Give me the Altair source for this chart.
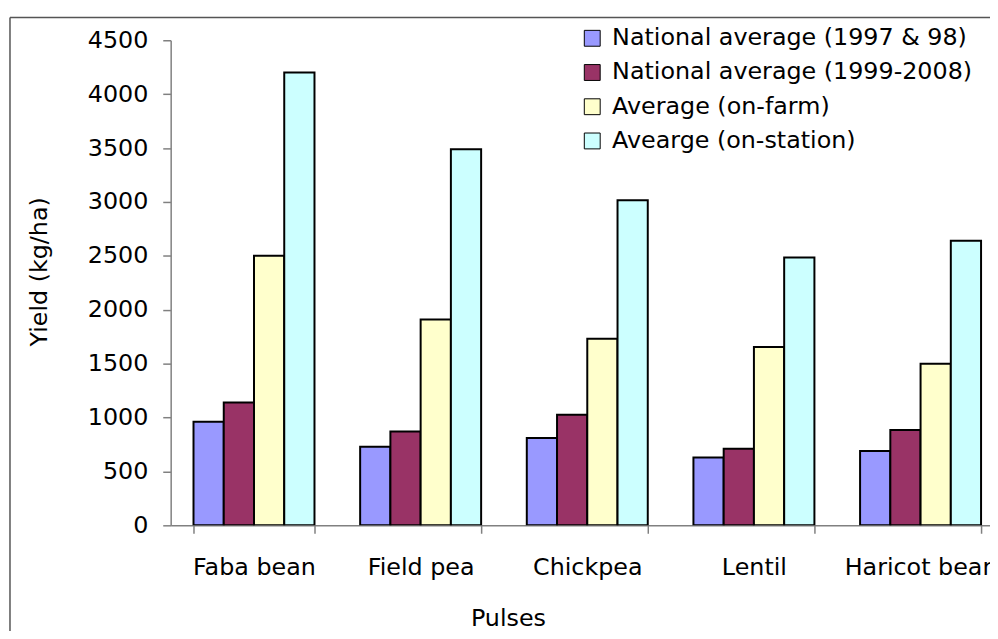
import altair as alt
import pandas as pd

pulses = ["Faba bean", "Field pea", "Chickpea", "Lentil", "Haricot bean"]
series = [
    "National average (1997 & 98)",
    "National average (1999-2008)",
    "Average (on-farm)",
    "Avearge (on-station)",
]
nat_9798 = [960, 730, 810, 630, 690]
nat_9908 = [1140, 870, 1025, 710, 885]
on_farm = [2500, 1910, 1730, 1655, 1500]
on_station = [4200, 3490, 3015, 2485, 2640]
colors = ["#9999FF", "#993366", "#FFFFCC", "#CCFFFF"]
y_ticks = [0, 500, 1000, 1500, 2000, 2500, 3000, 3500, 4000, 4500]

rows = []
for s, vals in zip(series, [nat_9798, nat_9908, on_farm, on_station]):
    for p, v in zip(pulses, vals):
        rows.append({"pulse": p, "series": s, "yield": v})
df = pd.DataFrame(rows)

FONT = "DejaVu Sans"

bars = alt.Chart(df).mark_bar(stroke="black", strokeWidth=2, clip=True).encode(
    x=alt.X(
        "pulse:N",
        sort=pulses,
        scale=alt.Scale(range=[0, 840], paddingInner=0.274, paddingOuter=0.137),
        axis=alt.Axis(
            title="Pulses",
            labelAngle=0,
            tickBand="extent",
            tickSize=8,
            labelPadding=23,
            labelLimit=0,
            titleX=340,
            titleY=101,
            titleBaseline="alphabetic",
            titleAlign="center",
        ),
    ),
    xOffset=alt.XOffset("series:N", sort=series, scale=alt.Scale(paddingInner=0, paddingOuter=0)),
    y=alt.Y(
        "yield:Q",
        scale=alt.Scale(domain=[0, 4500], nice=False),
        axis=alt.Axis(
            values=y_ticks,
            format="d",
            tickSize=8,
            labelPadding=15,
            grid=False,
            title="Yield (kg/ha)",
            titleAngle=-90,
            titleX=-132,
            titleY=233,
            titleBaseline="middle",
            titleAlign="center",
        ),
    ),
    color=alt.Color(
        "series:N",
        sort=series,
        scale=alt.Scale(domain=series, range=colors),
        legend=alt.Legend(
            title=None,
            orient="none",
            legendX=413,
            legendY=-14,
            symbolType="square",
            symbolSize=256,
            symbolStrokeColor="black",
            symbolStrokeWidth=1,
            symbolOpacity=1,
            labelFont=FONT,
            labelFontSize=24,
            labelColor="black",
            labelLimit=0,
            labelOffset=8,
            rowPadding=10.5,
        ),
    ),
)

frame_df = pd.DataFrame({"k": [0]})
frame_left = alt.Chart(frame_df).mark_rule(color="#555555", strokeWidth=1.5).encode(
    x=alt.value(-162), y=alt.value(-23), y2=alt.value(700)
)
frame_top = alt.Chart(frame_df).mark_rule(color="#555555", strokeWidth=1.5).encode(
    x=alt.value(-162), x2=alt.value(900), y=alt.value(-23)
)

chart = (
    alt.layer(bars, frame_left, frame_top)
    .properties(
        width=826,
        height=489,
        autosize=alt.AutoSizeParams(type="none"),
        padding={"left": 164, "top": 30, "right": 0, "bottom": 104},
    )
    .configure_view(stroke=None)
    .configure_axis(
        labelFont=FONT,
        labelFontSize=24,
        labelColor="black",
        titleFont=FONT,
        titleFontSize=24,
        titleFontWeight="normal",
        titleColor="black",
        domainColor="#808080",
        tickColor="#808080",
        domainWidth=1.5,
        tickWidth=1.5,
    )
)

chart.save("out.html", embed_options={"renderer": "svg", "actions": False})
